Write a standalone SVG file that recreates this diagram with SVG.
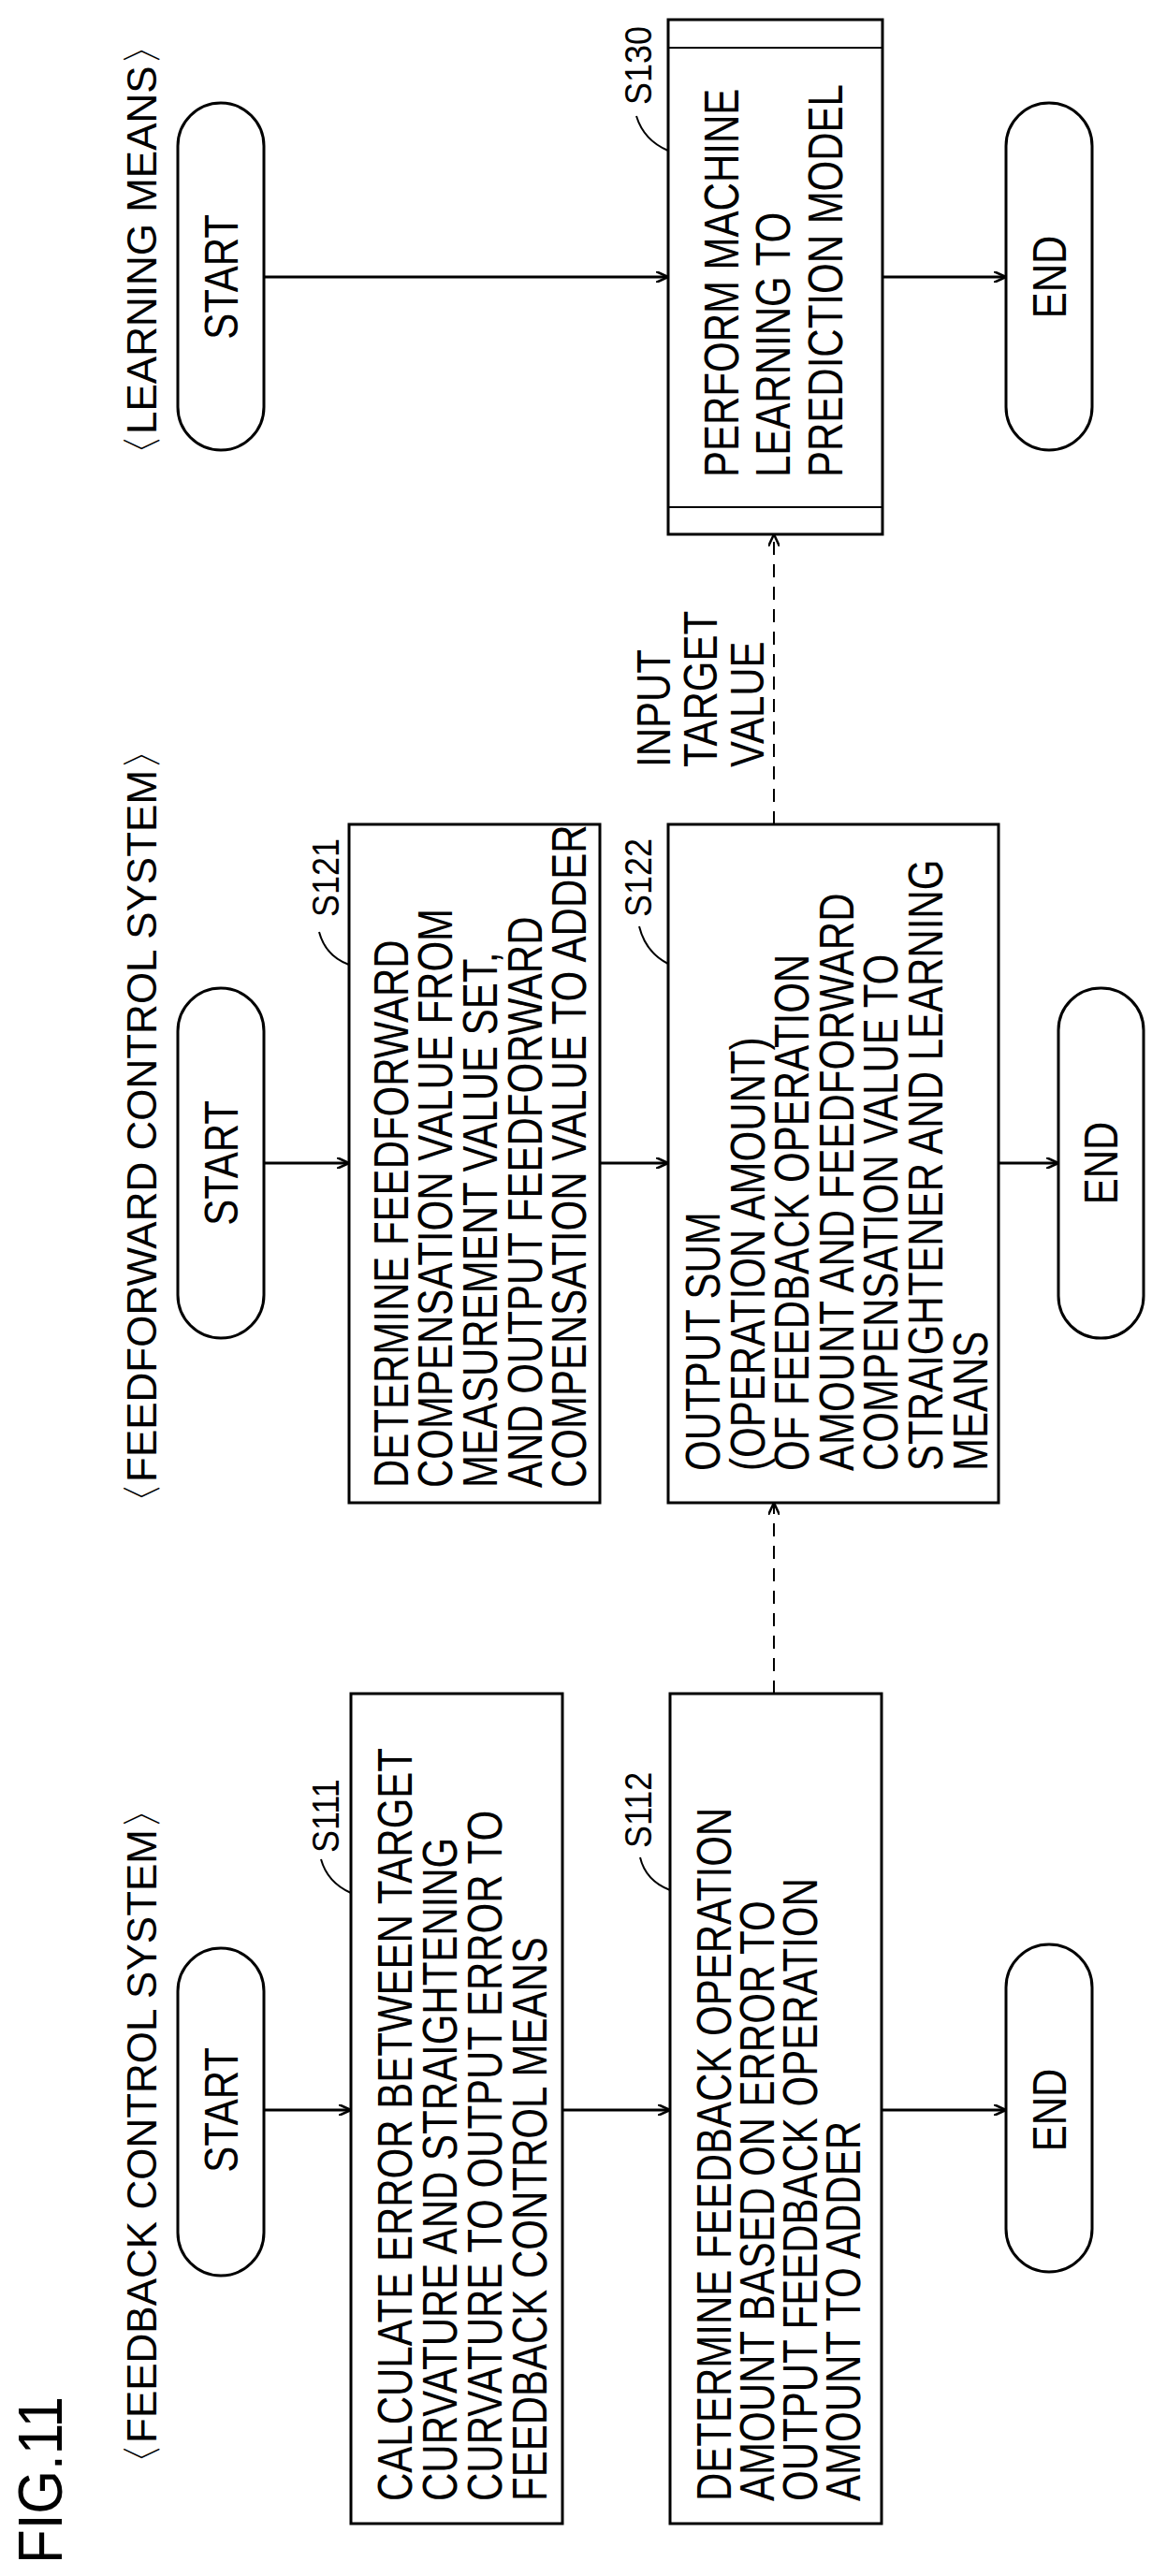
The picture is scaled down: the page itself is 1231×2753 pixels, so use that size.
<svg xmlns="http://www.w3.org/2000/svg" width="1231" height="2753" viewBox="0 0 1231 2753">
<style>
text{font-family:"Liberation Sans",Arial,sans-serif;font-size:42px;fill:#000}
.h{font-size:44px}
.lab{font-size:36px}
.fig{font-size:60px}
.box,.st{fill:#fff;stroke:#000;stroke-width:3}
.c{fill:none;stroke:#000;stroke-width:3}
.d{fill:none;stroke:#000;stroke-width:2;stroke-dasharray:14 10}
.l{fill:none;stroke:#000;stroke-width:2}
</style>
<defs>
<marker id="a" markerWidth="14" markerHeight="12" refX="13" refY="6" orient="auto" markerUnits="userSpaceOnUse"><path d="M0,0 L13,6 L0,12" fill="none" stroke="#000" stroke-width="2.5"/></marker>
</defs>
<text class="fig" transform="translate(66,2740) rotate(-90) scale(1,1.1)">FIG.11</text>
<text class="h" transform="translate(167,2655) rotate(-90)">〈FEEDBACK CONTROL SYSTEM〉</text>
<text class="h" transform="translate(167,1628) rotate(-90)">〈FEEDFORWARD CONTROL SYSTEM〉</text>
<text class="h" transform="translate(167,508) rotate(-90)">〈LEARNING MEANS〉</text>
<g id="connectors">
<path class="c" d="M282,2255 H375" marker-end="url(#a)"/>
<path class="c" d="M601,2255 H716" marker-end="url(#a)"/>
<path class="c" d="M942,2255 H1075" marker-end="url(#a)"/>
<path class="c" d="M282,1243 H373" marker-end="url(#a)"/>
<path class="c" d="M641,1243 H714" marker-end="url(#a)"/>
<path class="c" d="M1067,1243 H1131" marker-end="url(#a)"/>
<path class="c" d="M282,296 H714" marker-end="url(#a)"/>
<path class="c" d="M943,296 H1075" marker-end="url(#a)"/>
<path class="d" d="M827,1810 V1606" marker-end="url(#a)"/>
<path class="d" d="M827,881 V571" marker-end="url(#a)"/>
</g>
<g id="fb_start"><rect class="st" x="190" y="2082" width="92" height="350" rx="46"/><text transform="translate(254,2255) rotate(-90) scale(1,1.2)" text-anchor="middle">START</text></g>
<g id="s111"><rect class="box" x="375" y="1810" width="226" height="887"/>
<text class="lab" transform="translate(362,1980) rotate(-90) scale(1,1.15)">S111</text><path class="l" d="M343,1987 Q350,2012 375,2023"/>
<text transform="translate(440,2673) rotate(-90) scale(1,1.25)">CALCULATE ERROR BETWEEN TARGET</text>
<text transform="translate(488,2673) rotate(-90) scale(1,1.25)">CURVATURE AND STRAIGHTENING</text>
<text transform="translate(536,2673) rotate(-90) scale(1,1.25)">CURVATURE TO OUTPUT ERROR TO</text>
<text transform="translate(584,2673) rotate(-90) scale(1,1.25)">FEEDBACK CONTROL MEANS</text></g>
<g id="s112"><rect class="box" x="716" y="1810" width="226" height="887"/>
<text class="lab" transform="translate(696,1975) rotate(-90) scale(1,1.15)">S112</text><path class="l" d="M684,1985 Q690,2010 716,2020"/>
<text transform="translate(781,2673) rotate(-90) scale(1,1.25)">DETERMINE FEEDBACK OPERATION</text>
<text transform="translate(827,2673) rotate(-90) scale(1,1.25)">AMOUNT BASED ON ERROR TO</text>
<text transform="translate(873,2673) rotate(-90) scale(1,1.25)">OUTPUT FEEDBACK OPERATION</text>
<text transform="translate(919,2673) rotate(-90) scale(1,1.25)">AMOUNT TO ADDER</text></g>
<g id="fb_end"><rect class="st" x="1075" y="2078" width="92" height="350" rx="46"/><text transform="translate(1139,2255) rotate(-90) scale(1,1.2)" text-anchor="middle">END</text></g>
<g id="ff_start"><rect class="st" x="190" y="1056" width="92" height="374" rx="46"/><text transform="translate(254,1243) rotate(-90) scale(1,1.2)" text-anchor="middle">START</text></g>
<g id="s121"><rect class="box" x="373" y="881" width="268" height="725"/>
<text class="lab" transform="translate(362,980) rotate(-90) scale(1,1.15)">S121</text><path class="l" d="M341,996 Q348,1022 373,1031"/>
<text transform="translate(436,1590) rotate(-90) scale(1,1.25)">DETERMINE FEEDFORWARD</text>
<text transform="translate(483,1590) rotate(-90) scale(1,1.25)">COMPENSATION VALUE FROM</text>
<text transform="translate(531,1590) rotate(-90) scale(1,1.25)">MEASUREMENT VALUE SET,</text>
<text transform="translate(579,1590) rotate(-90) scale(1,1.25)">AND OUTPUT FEEDFORWARD</text>
<text transform="translate(626,1590) rotate(-90) scale(1,1.25)">COMPENSATION VALUE TO ADDER</text></g>
<g id="s122"><rect class="box" x="714" y="881" width="353" height="725"/>
<text class="lab" transform="translate(696,980) rotate(-90) scale(1,1.15)">S122</text><path class="l" d="M683,990 Q690,1018 714,1030"/>
<text transform="translate(769,1572) rotate(-90) scale(1,1.25)">OUTPUT SUM</text>
<text transform="translate(817,1572) rotate(-90) scale(1,1.25)">(OPERATION AMOUNT)</text>
<text transform="translate(864,1572) rotate(-90) scale(1,1.25)">OF FEEDBACK OPERATION</text>
<text transform="translate(912,1572) rotate(-90) scale(1,1.25)">AMOUNT AND FEEDFORWARD</text>
<text transform="translate(959,1572) rotate(-90) scale(1,1.25)">COMPENSATION VALUE TO</text>
<text transform="translate(1007,1572) rotate(-90) scale(1,1.25)">STRAIGHTENER AND LEARNING</text>
<text transform="translate(1055,1572) rotate(-90) scale(1,1.25)">MEANS</text></g>
<g id="ff_end"><rect class="st" x="1131" y="1056" width="91" height="374" rx="45"/><text transform="translate(1194,1243) rotate(-90) scale(1,1.2)" text-anchor="middle">END</text></g>
<g id="input_label">
<text transform="translate(716,820) rotate(-90) scale(1,1.2)">INPUT</text>
<text transform="translate(766,820) rotate(-90) scale(1,1.2)">TARGET</text>
<text transform="translate(816,820) rotate(-90) scale(1,1.2)">VALUE</text></g>
<g id="ln_start"><rect class="st" x="190" y="110" width="92" height="371" rx="46"/><text transform="translate(254,296) rotate(-90) scale(1,1.2)" text-anchor="middle">START</text></g>
<g id="s130"><rect class="box" x="714" y="21" width="229" height="550"/><path class="l" d="M714,51 H943 M714,542 H943"/>
<text class="lab" transform="translate(696,112) rotate(-90) scale(1,1.15)">S130</text><path class="l" d="M680,124 Q688,150 714,161"/>
<text transform="translate(789,510) rotate(-90) scale(1,1.25)">PERFORM MACHINE</text>
<text transform="translate(844,510) rotate(-90) scale(1,1.25)">LEARNING TO</text>
<text transform="translate(900,510) rotate(-90) scale(1,1.25)">PREDICTION MODEL</text></g>
<g id="ln_end"><rect class="st" x="1075" y="110" width="92" height="371" rx="46"/><text transform="translate(1139,296) rotate(-90) scale(1,1.2)" text-anchor="middle">END</text></g>
</svg>
